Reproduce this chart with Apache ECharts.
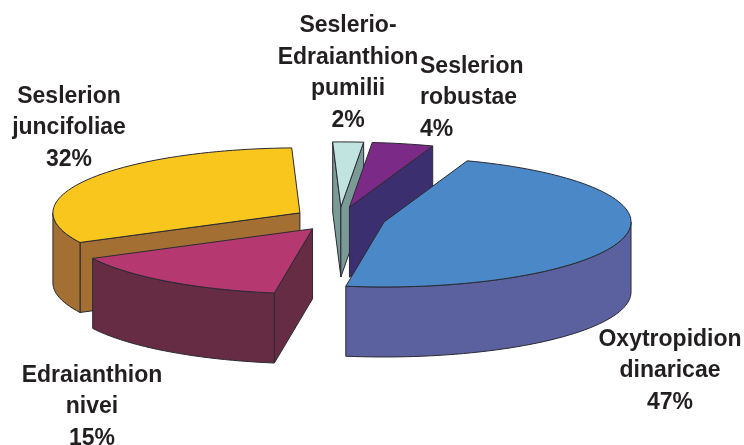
<!DOCTYPE html>
<html>
<head>
<meta charset="utf-8">
<style>html,body{margin:0;padding:0;background:#fff}#c{width:744px;height:445px}</style>
<script src="https://cdn.jsdelivr.net/npm/echarts@6/dist/echarts.min.js"></script>
</head>
<body>
<div id="c"></div>
<script>
var categories = ['Oxytropidion\ndinaricae', 'Edraianthion\nnivei', 'Seslerion\njuncifoliae', 'Seslerio-\nEdraianthion\npumilii', 'Seslerion\nrobustae'];
var shares = [47, 15, 32, 2, 4];

var topColors = ['#4A88C7', '#B53970', '#F9C61D', '#C2E4E0', '#7C2A87'];
var wallColors = ['#5A619E', '#662C44', '#A46F33', '#7A9A96', '#3C2F70'];
var paintOrder = [5, 4, 3, 1, 2];
var labelAnchors = [[670, 371, 'center'], [92, 407, 'center'], [69, 128, 'center'], [348, 73, 'center'], [420, 98, 'left']];
var pie = {cx: 339.5, cy: 219, rx: 247, ry: 65, depth: 70, explode: 0.186, startAngle: 19.7};

function rad(d) { return d * Math.PI / 180; }

function renderSlice(params, api) {
  var i = params.dataIndex;
  var total = shares.reduce(function (s, v) { return s + v; }, 0);
  var before = 0;
  for (var k = 0; k < i; k++) before += shares[k];
  var a = pie.startAngle + before / total * 360;
  var b = a + api.value(0) / total * 360;
  var m = rad((a + b) / 2);
  var ox = pie.cx + pie.explode * pie.rx * Math.sin(m);
  var oy = pie.cy - pie.explode * pie.ry * Math.cos(m);
  function rim(d, dz) {
    return [ox + pie.rx * Math.sin(rad(d)), oy - pie.ry * Math.cos(rad(d)) + (dz || 0)];
  }
  function arc(from, to, dz) {
    var pts = [], n = Math.max(2, Math.ceil(Math.abs(to - from) / 2));
    for (var j = 0; j <= n; j++) pts.push(rim(from + (to - from) * j / n, dz));
    return pts;
  }
  function poly(points, fill, z) {
    return {
      type: 'polygon', z2: z,
      shape: {points: points},
      style: {fill: fill, stroke: '#2A2A33', lineWidth: 1, lineJoin: 'round'}
    };
  }
  function cut(d) {
    var p = rim(d);
    return [[ox, oy], p, [p[0], p[1] + pie.depth], [ox, oy + pie.depth]];
  }
  var base = paintOrder[i] * 10, kids = [];
  if (Math.sin(rad(a)) < 0) kids.push(poly(cut(a), wallColors[i], base));
  if (Math.sin(rad(b)) > 0) kids.push(poly(cut(b), wallColors[i], base));
  var f = Math.max(a, 90), t = Math.min(b, 270);
  if (t > f) {
    kids.push(poly(arc(f, t, 0).concat(arc(t, f, pie.depth)), wallColors[i], base + 1));
  }
  kids.push(poly([[ox, oy]].concat(arc(a, b, 0)), topColors[i], base + 2));
  var L = labelAnchors[i];
  kids.push({
    type: 'text', z2: 100, x: L[0], y: L[1],
    style: {
      text: categories[i] + '\n' + api.value(0) + '%',
      fill: '#231F20',
      font: 'bold 23px "Liberation Sans", Arial, sans-serif',
      lineHeight: 31.5,
      align: L[2],
      verticalAlign: 'middle'
    }
  });
  return {type: 'group', children: kids};
}

var chart = echarts.init(document.getElementById('c'), null, {renderer: 'canvas'});
chart.setOption({
  animation: false,
  backgroundColor: '#ffffff',
  series: [{
    type: 'custom',
    coordinateSystem: 'none',
    renderItem: renderSlice,
    encode: {value: 0},
    data: shares.map(function (v, i) { return {name: categories[i], value: [v]}; })
  }]
});
</script>
</body>
</html>
